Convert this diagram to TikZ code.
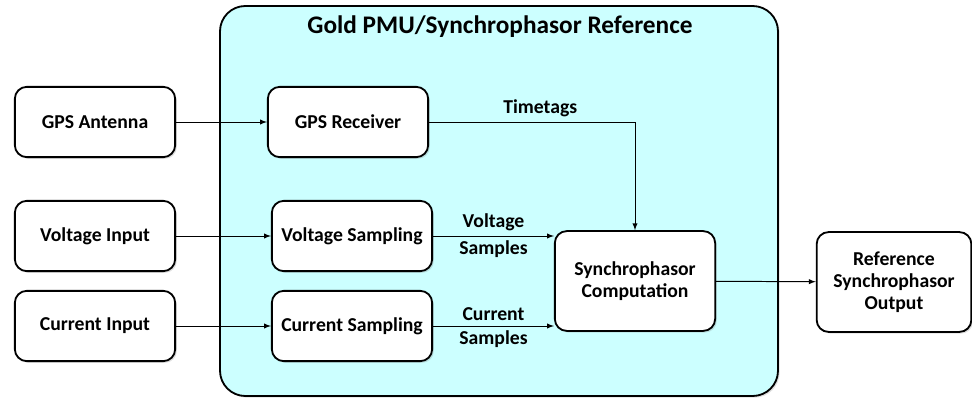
\documentclass[tikz,border=0pt]{standalone}
\usepackage{fontspec}
\setmainfont{Carlito}
\usetikzlibrary{shadows}
\definecolor{unitfill}{RGB}{204,255,255}

\begin{document}
\begin{tikzpicture}
  [x=0.025cm,y=-0.025cm,>=latex,every node/.style={font=\bfseries\fontsize{14}{15.6}\selectfont},
   blk/.style={draw, line width=1.3pt, rounded corners=8.5pt, fill=white, align=center,
     minimum width=114pt, minimum height=50pt, inner sep=2pt,
     drop shadow={shadow xshift=1.2pt, shadow yshift=-1.2pt, opacity=.25}},
   lnk/.style={->, line width=0.7pt}]
  \useasboundingbox (0,0) rectangle (972,400);

  % reference unit
  \draw[line width=1.3pt, rounded corners=18pt, fill=unitfill,
     drop shadow={shadow xshift=1.2pt, shadow yshift=-1.2pt, opacity=.25}]
     (220,6) rectangle (778,396);
  \node[font=\bfseries\fontsize{18}{20}\selectfont] (title) at (500,27) {Gold PMU/Synchrophasor Reference};

  \node[blk] (ant) at (95,122) {GPS Antenna};
  \node[blk] (rcv) at (348,122) {GPS Receiver};
  \node[blk] (vin) at (95,236) {Voltage Input};
  \node[blk] (vsm) at (352,236) {Voltage Sampling};
  \node[blk] (cin) at (95,326) {Current Input};
  \node[blk] (csm) at (352,326) {Current Sampling};
  \node[blk, minimum height=71pt] (cmp) at (635,281) {Synchrophasor\\Computation};
  \node[blk, minimum width=110pt, minimum height=71pt] (out) at (894,282) {Reference\\Synchrophasor\\Output};

  \foreach \from/\to in {ant/rcv, vin/vsm, cin/csm, cmp/out}
    \draw[lnk] (\from) -- (\to);

  \draw[lnk] (rcv.east) -| node[pos=.27, above] {Timetags} (cmp.north);
  \draw[lnk] (vsm.east) -- node[above] {Voltage} node[below] {Samples} (vsm.east -| cmp.west);
  \draw[lnk] (csm.east) -- node[above] {Current} node[below] {Samples} (csm.east -| cmp.west);

\end{tikzpicture}
\end{document}
